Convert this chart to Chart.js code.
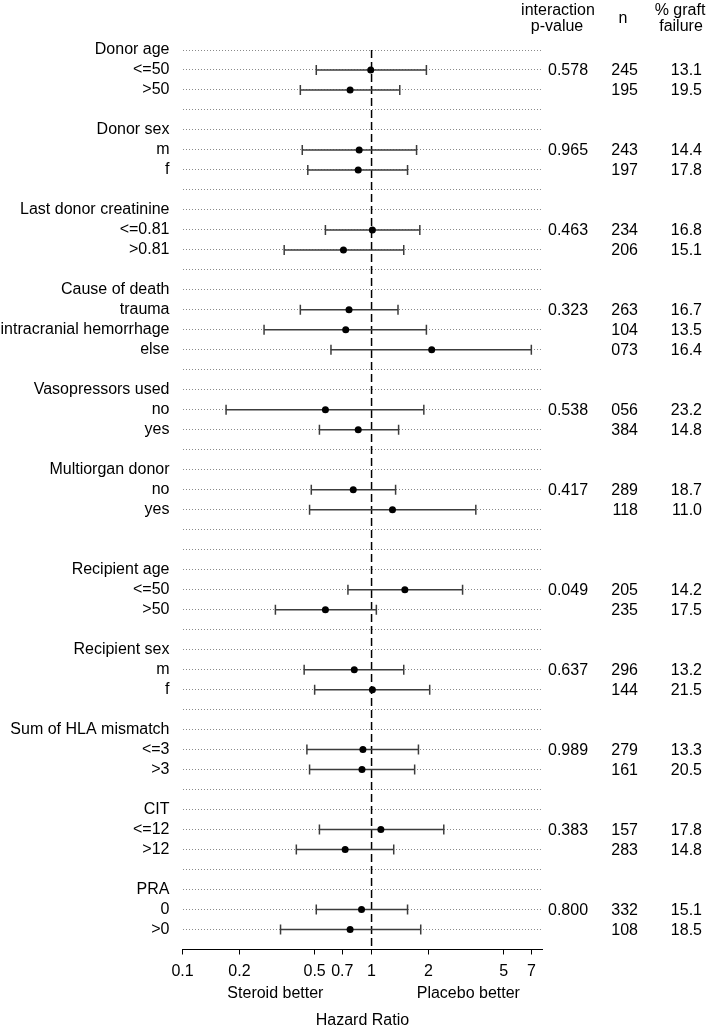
<!DOCTYPE html>
<html>
<head>
<meta charset="utf-8">
<script src="https://cdn.jsdelivr.net/npm/chart.js@4/dist/chart.umd.min.js"></script>
<style>
  html, body { margin: 0; padding: 0; background: #fff; }
  #wrap { width: 709px; height: 1028px; }
</style>
</head>
<body>
<div id="wrap"><canvas id="c" width="709" height="1028"></canvas></div>
<script>
// ---------------- DATA ----------------
const rowLabels = [
  "Donor age", "<=50", ">50", "",
  "Donor sex", "m", "f", "",
  "Last donor creatinine", "<=0.81", ">0.81", "",
  "Cause of death", "trauma", "intracranial hemorrhage", "else", "",
  "Vasopressors used", "no", "yes", "",
  "Multiorgan donor", "no", "yes", "", "",
  "Recipient age", "<=50", ">50", "",
  "Recipient sex", "m", "f", "",
  "Sum of HLA mismatch", "<=3", ">3", "",
  "CIT", "<=12", ">12", "",
  "PRA", "0", ">0"
];

// rows (indices into rowLabels) that carry an estimate
const subgroupRows = [1, 2, 5, 6, 9, 10, 13, 14, 15, 18, 19, 22, 23, 27, 28, 31, 32, 35, 36, 39, 40, 43, 44];
const hazardRatio  = [0.99, 0.77, 0.86, 0.85, 1.01, 0.71, 0.76, 0.73, 2.08, 0.57, 0.85, 0.80, 1.29, 1.50, 0.57, 0.81, 1.01, 0.90, 0.89, 1.12, 0.725, 0.885, 0.77];
const lowerCI      = [0.51, 0.42, 0.43, 0.46, 0.57, 0.345, 0.42, 0.27, 0.61, 0.17, 0.53, 0.48, 0.47, 0.75, 0.31, 0.44, 0.50, 0.455, 0.47, 0.53, 0.40, 0.51, 0.33];
const upperCI      = [1.95, 1.41, 1.73, 1.55, 1.80, 1.48, 1.38, 1.95, 7.0, 1.89, 1.39, 1.34, 3.56, 3.03, 1.06, 1.48, 2.03, 1.77, 1.69, 2.41, 1.31, 1.55, 1.82];
const nPatients    = ["245", "195", "243", "197", "234", "206", "263", "104", "073", "056", "384", "289", "118", "205", "235", "296", "144", "279", "161", "157", "283", "332", "108"];
const graftFailure = ["13.1", "19.5", "14.4", "17.8", "16.8", "15.1", "16.7", "13.5", "16.4", "23.2", "14.8", "18.7", "11.0", "14.2", "17.5", "13.2", "21.5", "13.3", "20.5", "17.8", "14.8", "15.1", "18.5"];

// interaction p-values (row index, value)
const pValueRows = [1, 5, 9, 13, 18, 22, 27, 31, 35, 39, 43];
const pValues    = ["0.578", "0.965", "0.463", "0.323", "0.538", "0.417", "0.049", "0.637", "0.989", "0.383", "0.800"];

const xTicks      = [0.1, 0.2, 0.5, 0.7, 1, 2, 5, 7];
const xTickLabels = ["0.1", "0.2", "0.5", "0.7", "1", "2", "5", "7"];
const xMin = 0.1, xMax = 8;
const nullValue = 1;

// ---------------- CHART ----------------
const FONT = '"Liberation Sans", Arial, Helvetica, sans-serif';
Chart.defaults.font.family = FONT;
Chart.defaults.font.size = 16;
Chart.defaults.color = '#000';

const nRows = rowLabels.length; // 45 -> axis sits at row index 45
const ciColor = '#3c3c3c';

const datasets = [];
// reference line at HR = 1
datasets.push({
  data: [{x: nullValue, y: 0}, {x: nullValue, y: nRows}],
  showLine: true,
  borderColor: '#000',
  borderWidth: 1.5,
  borderDash: [8, 4],
  pointRadius: 0,
  order: 3
});
// confidence intervals with caps
subgroupRows.forEach((r, k) => {
  datasets.push({
    data: [{x: lowerCI[k], y: r}, {x: upperCI[k], y: r}],
    showLine: true,
    borderColor: ciColor,
    borderWidth: 1.5,
    pointStyle: 'line',
    pointRotation: 90,
    pointRadius: 5,
    pointBorderColor: ciColor,
    pointBorderWidth: 1.5,
    order: 2
  });
});
// point estimates
datasets.push({
  data: subgroupRows.map((r, k) => ({x: hazardRatio[k], y: r})),
  pointRadius: 3.5,
  pointBackgroundColor: '#000',
  pointBorderColor: '#000',
  pointBorderWidth: 0,
  order: 1
});

const textPlugin = {
  id: 'forestText',
  afterDraw(chart) {
    const ctx = chart.ctx;
    const y = chart.scales.y, x = chart.scales.x;
    ctx.save();
    ctx.fillStyle = '#000';
    ctx.font = '16px ' + FONT;
    // headers
    ctx.textBaseline = 'alphabetic';
    ctx.textAlign = 'center';
    ctx.fillText('interaction', 558, 15);
    ctx.fillText('p-value', 557, 31);
    ctx.fillText('n', 623, 23);
    ctx.fillText('% graft', 680, 15);
    ctx.fillText('failure', 681, 31);
    // columns
    ctx.textBaseline = 'middle';
    ctx.textAlign = 'left';
    pValueRows.forEach((r, k) => ctx.fillText(pValues[k], 548, y.getPixelForValue(r) + 1));
    ctx.textAlign = 'right';
    subgroupRows.forEach((r, k) => {
      const py = y.getPixelForValue(r) + 1;
      ctx.fillText(nPatients[k], 638, py);
      ctx.fillText(graftFailure[k], 702, py);
    });
    // direction labels
    ctx.textAlign = 'center';
    ctx.fillText('Steroid better', x.getPixelForValue(0.31), 994);
    ctx.fillText('Placebo better', x.getPixelForValue(3.25), 994);
    ctx.restore();
  }
};

new Chart(document.getElementById('c'), {
  type: 'scatter',
  data: { datasets },
  options: {
    responsive: false,
    animation: false,
    devicePixelRatio: 1,
    layout: { padding: { top: 50, right: 166.7, bottom: 0, left: 0 } },
    plugins: { legend: { display: false }, tooltip: { enabled: false } },
    scales: {
      x: {
        type: 'logarithmic',
        min: xMin,
        max: xMax,
        afterBuildTicks: (s) => { s.ticks = xTicks.map(v => ({value: v})); },
        afterFit: (s) => { s.height = 78.5; },
        ticks: {
          autoSkip: false,
          maxRotation: 0,
          padding: 7,
          font: { size: 16 },
          callback: (v, i) => xTickLabels[i]
        },
        grid: {
          display: true,
          drawOnChartArea: false,
          drawTicks: true,
          tickLength: 5,
          tickColor: '#000',
          tickWidth: 1
        },
        border: { display: true, color: '#000', width: 1 },
        title: {
          display: true,
          text: 'Hazard Ratio',
          font: { size: 16, lineHeight: 1 },
          padding: { top: 0, bottom: -1 }
        }
      },
      y: {
        type: 'linear',
        reverse: true,
        min: 0,
        max: nRows,
        afterBuildTicks: (s) => { s.ticks = rowLabels.map((_, i) => ({value: i})).concat([{value: nRows}]); },
        afterFit: (s) => { s.width = 182.5; },
        ticks: {
          autoSkip: false,
          padding: 13,
          font: { size: 16 },
          callback: (v) => (rowLabels[v] !== undefined ? rowLabels[v] : '')
        },
        grid: {
          drawTicks: false,
          lineWidth: 1,
          color: (c) => (c.tick && c.tick.value >= nRows ? 'rgba(0,0,0,0)' : '#8a8a8a')
        },
        border: { display: false, dash: [1, 2] }
      }
    }
  },
  plugins: [textPlugin]
});
</script>
</body>
</html>
